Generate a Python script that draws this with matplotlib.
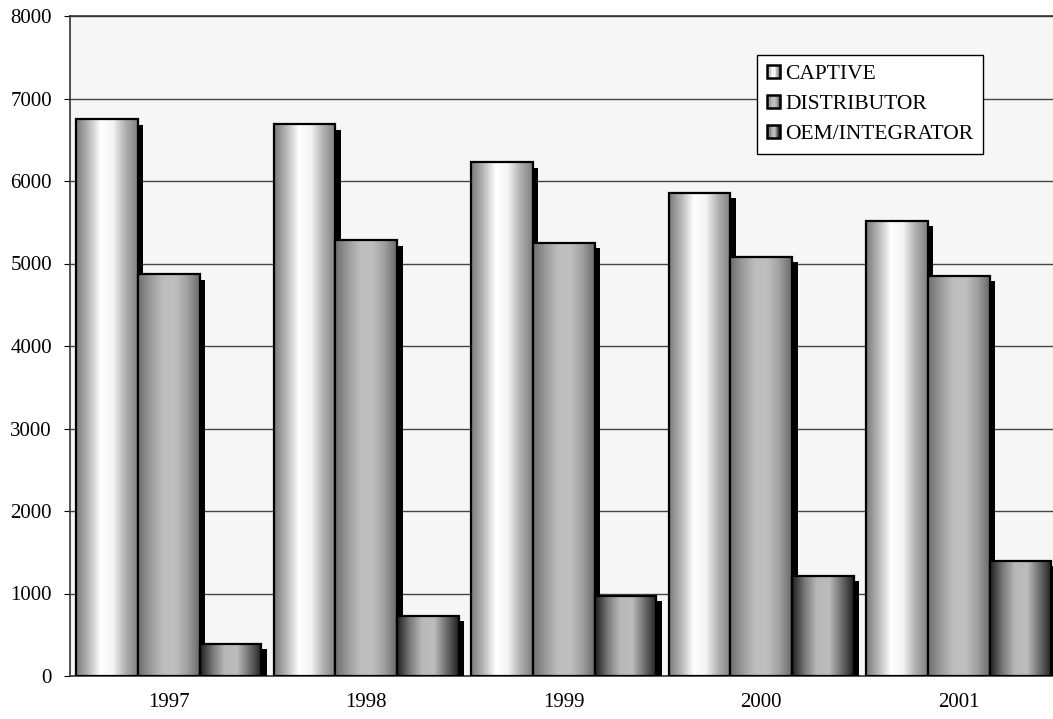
import numpy as np
import matplotlib
matplotlib.use("Agg")
import matplotlib.pyplot as plt
from matplotlib.patches import Rectangle
from matplotlib.colors import LinearSegmentedColormap
from matplotlib.transforms import ScaledTranslation
from matplotlib.legend_handler import HandlerBase

years = ["1997", "1998", "1999", "2000", "2001"]
series = ["CAPTIVE", "DISTRIBUTOR", "OEM/INTEGRATOR"]
captive = [6750, 6690, 6230, 5860, 5520]
distributor = [4870, 5280, 5250, 5080, 4850]
oem = [390, 730, 970, 1215, 1400]

# cylinder-like shading per series (edge -> highlight -> edge)
shades = [
    ["#7a7a7a", "#b8b8b8", "#ffffff", "#f4f4f4", "#b0b0b0", "#808080"],
    ["#6e6e6e", "#9a9a9a", "#bdbdbd", "#c0c0c0", "#a0a0a0", "#6a6a6a"],
    ["#1e1e1e", "#777777", "#b8b8b8", "#bdbdbd", "#6e6e6e", "#202020"],
]
cmaps = [LinearSegmentedColormap.from_list("s%d" % i, c) for i, c in enumerate(shades)]
grad = np.linspace(0, 1, 200).reshape(1, -1)

plt.rcParams['font.family'] = ['Liberation Serif', 'DejaVu Serif']

fig = plt.figure(figsize=(10.53, 7.19), dpi=100)
ax = fig.add_axes([70/1053, 43/719, 983/1053, 660/719])
ax.set_facecolor("#f6f6f6")

width = 0.3125
x = np.arange(len(years))
shadow_tr = ax.transData + ScaledTranslation(5.5/100, -5.5/100, fig.dpi_scale_trans)

for i, vals in enumerate([captive, distributor, oem]):
    for xi, v in zip(x, vals):
        x0 = xi + (i - 1.5) * width
        sh = Rectangle((x0, 0), width, v, facecolor="black", edgecolor="none",
                       transform=shadow_tr, zorder=2 + 3*i)
        ax.add_patch(sh)
        edge = Rectangle((x0, 0), width, v, facecolor="none", edgecolor="black",
                         lw=1.6, zorder=4 + 3*i)
        ax.add_patch(edge)
        im = ax.imshow(grad, cmap=cmaps[i], extent=(x0, x0 + width, 0, v),
                       aspect="auto", zorder=3 + 3*i, interpolation="bilinear")
        im.set_clip_path(edge)

ax.set_xlim(-0.5, 4.477)
ax.set_ylim(0, 8000)
ax.set_yticks(np.arange(0, 8001, 1000))
ax.set_xticks(x)
ax.set_xticklabels(years)
ax.yaxis.grid(True, color="#444444", lw=1)
ax.set_axisbelow(True)
ax.tick_params(axis="x", length=0, labelsize=15, pad=12)
ax.tick_params(axis="y", length=4, labelsize=15, pad=9)
for s in ["left", "bottom", "top"]:
    ax.spines[s].set_color("#333333")
    ax.spines[s].set_linewidth(1.2)
ax.spines["right"].set_visible(False)


class GradHandler(HandlerBase):
    def __init__(self, cmap):
        super().__init__()
        self.cmap = cmap

    def create_artists(self, legend, orig_handle, xdescent, ydescent, width, height, fontsize, trans):
        side = min(width, height) * 1.0
        x0 = -xdescent
        y0 = -ydescent + (height - side) / 2
        arts = []
        n = 10
        for k in range(n):
            arts.append(Rectangle((x0 + k*side/n, y0), side/n, side,
                                  facecolor=self.cmap((k + 0.5)/n), edgecolor="none", transform=trans))
        arts.append(Rectangle((x0, y0), side, side, facecolor="none", edgecolor="black",
                              lw=1.8, transform=trans))
        return arts


handles = [Rectangle((0, 0), 1, 1) for _ in series]
leg = ax.legend(handles, series, loc="upper left", bbox_to_anchor=(0.699, 0.941),
                borderaxespad=0, fontsize=15.5, frameon=True, fancybox=False,
                edgecolor="black", framealpha=1, handlelength=0.6, handleheight=0.6,
                handletextpad=0.25, labelspacing=0.5, borderpad=0.45,
                handler_map={h: GradHandler(c) for h, c in zip(handles, cmaps)})
leg.get_frame().set_linewidth(1.0)
leg.set_zorder(20)

fig.savefig("out.png", dpi=100)
